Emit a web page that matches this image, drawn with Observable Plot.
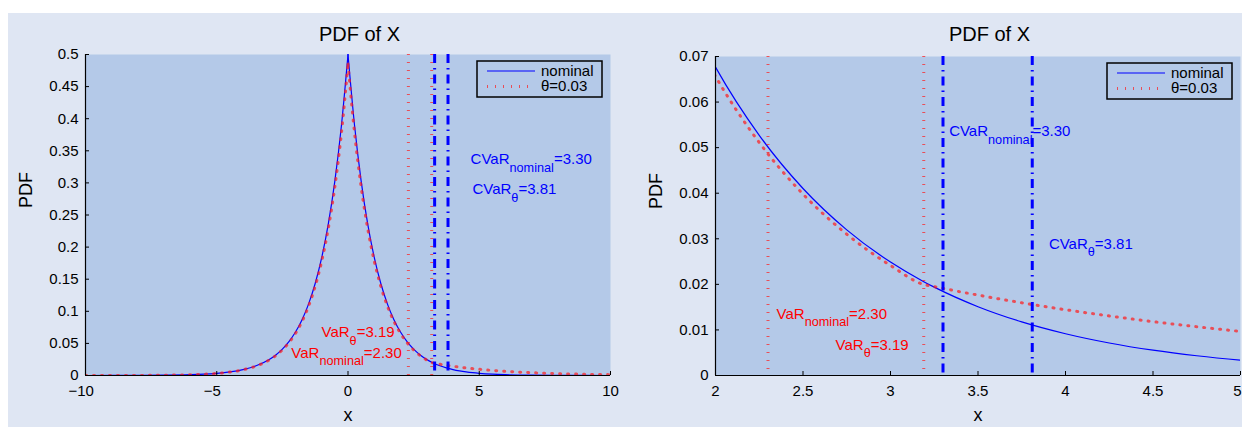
<!DOCTYPE html>
<html><head><meta charset="utf-8">
<script src="https://cdn.jsdelivr.net/npm/d3@7"></script>
<script src="https://cdn.jsdelivr.net/npm/@observablehq/plot@0.6"></script>
<style>
html,body{margin:0;padding:0;background:#fff;width:1242px;height:427px;overflow:hidden;}
#fig{position:absolute;left:8px;top:13px;width:1234px;height:414px;background:#dfe6f3;}
.panel{position:absolute;top:0;height:427px;}
</style></head><body>
<div id="fig"></div>
<div id="left" class="panel" style="left:0;width:620px"></div>
<div id="right" class="panel" style="left:620px;width:622px"></div>
<script>
// ---- data ----
const xs = [-10, -9, -8, -7, -6, -5.5, -5, -4.5, -4, -3.5, -3, -2.75, -2.5, -2.25, -2, -1.75, -1.5, -1.25, -1, -0.75, -0.5, -0.25,
  0,
  0.25, 0.5, 0.75, 1, 1.25, 1.5, 1.75, 2, 2.25, 2.5, 2.75, 3, 3.19, 3.25, 3.5, 3.75, 4, 4.25, 4.5, 4.75, 5, 5.5, 6, 7, 8, 9, 10];
const nominalPdf = [0.00002, 0.00006, 0.00017, 0.00046, 0.00124, 0.00204, 0.00337, 0.00555, 0.00916, 0.01510, 0.02489, 0.03196, 0.04104, 0.05270, 0.06767, 0.08689, 0.11157, 0.14325, 0.18394, 0.23618, 0.30327, 0.38940,
  0.5,
  0.38940, 0.30327, 0.23618, 0.18394, 0.14325, 0.11157, 0.08689, 0.06767, 0.05270, 0.04104, 0.03196, 0.02489, 0.02059, 0.01939, 0.01510, 0.01176, 0.00916, 0.00713, 0.00555, 0.00433, 0.00337, 0.00204, 0.00124, 0.00046, 0.00017, 0.00006, 0.00002];
const thetaPdf = [0.00002, 0.00006, 0.00016, 0.00044, 0.00120, 0.00198, 0.00327, 0.00539, 0.00888, 0.01465, 0.02414, 0.03100, 0.03981, 0.05112, 0.06564, 0.08428, 0.10822, 0.13895, 0.17842, 0.22909, 0.29417, 0.37772,
  0.485,
  0.37772, 0.29417, 0.22909, 0.17842, 0.13895, 0.10822, 0.08428, 0.06564, 0.05112, 0.03981, 0.03100, 0.02414, 0.01997, 0.01950, 0.01764, 0.01596, 0.01444, 0.01307, 0.01182, 0.01070, 0.00968, 0.00793, 0.00649, 0.00435, 0.00292, 0.00195, 0.00131];
const seriesNames = ["nominal", "θ=0.03"];
const varLines = [2.30, 3.19];    // VaR nominal, VaR theta
const cvarLines = [3.30, 3.81];   // CVaR nominal, CVaR theta
const title = "PDF of X";
const xLabel = "x";
const yLabel = "PDF";
const leftXTicks = [-10, -5, 0, 5, 10];
const leftXTickLabels = ["−10", "−5", "0", "5", "10"];
const leftYTicks = [0, 0.05, 0.1, 0.15, 0.2, 0.25, 0.3, 0.35, 0.4, 0.45, 0.5];
const leftYTickLabels = ["0", "0.05", "0.1", "0.15", "0.2", "0.25", "0.3", "0.35", "0.4", "0.45", "0.5"];
const rightXTicks = [2, 2.5, 3, 3.5, 4, 4.5, 5];
const rightXTickLabels = ["2", "2.5", "3", "3.5", "4", "4.5", "5"];
const rightYTicks = [0, 0.01, 0.02, 0.03, 0.04, 0.05, 0.06, 0.07];
const rightYTickLabels = ["0", "0.01", "0.02", "0.03", "0.04", "0.05", "0.06", "0.07"];
const annotationTexts = ["CVaR_{nominal}=3.30", "CVaR_{θ}=3.81", "VaR_{θ}=3.19", "VaR_{nominal}=2.30"];
const annotationColors = ["blue", "blue", "red", "red"];
const leftAnnotX = [4.67, 4.74, -1.01, -2.16];
const leftAnnotY = [0.329, 0.282, 0.0597, 0.0276];
const rightAnnotX = [3.335, 3.905, 2.686, 2.349];
const rightAnnotY = [0.0525, 0.0278, 0.0057, 0.0124];

// ---- styling ----
const FONT = "'Liberation Sans', Arial, Helvetica, sans-serif";
const PLOT_BG = "#b4c9e8";
const RED = "#ff1a1a";
const DOT = "1,7";
const DASHDOT = "9,5,1.5,5";

function rowsFor(vals) {
  const rows = [];
  xs.forEach((x, i) => {
    if (x <= 0) rows.push({x, y: vals[i], seg: "L"});
    if (x >= 0) rows.push({x, y: vals[i], seg: "R"});
  });
  return rows;
}
const nominalRows = rowsFor(nominalPdf);
const thetaRows = rowsFor(thetaPdf);

function panel(o) {
  const xMap = new Map(o.xTicks.map((d, i) => [d, o.xTickLabels[i]]));
  const yMap = new Map(o.yTicks.map((d, i) => [d, o.yTickLabels[i]]));
  const annots = annotationTexts.map((t, i) => ({text: t, color: annotationColors[i], x: o.annX[i], y: o.annY[i]}));
  const svg = Plot.plot({
    width: o.width, height: 427,
    marginLeft: o.marginLeft, marginRight: o.marginRight, marginTop: o.marginTop, marginBottom: 52,
    style: {background: "transparent", fontFamily: FONT, fontSize: "15px", color: "black", overflow: "visible"},
    x: {domain: o.xDomain},
    y: {domain: o.yDomain},
    marks: [
      Plot.frame({fill: PLOT_BG, stroke: "none"}),
      Plot.line(nominalRows, {x: "x", y: "y", z: "seg", stroke: "blue", strokeWidth: 1.2, curve: "monotone-x", clip: true}),
      Plot.line(thetaRows, {x: "x", y: "y", z: "seg", stroke: RED, strokeOpacity: 0.7, strokeWidth: 3, strokeDasharray: DOT, curve: "monotone-x", clip: true}),
      Plot.ruleX(varLines, {stroke: RED, strokeOpacity: 0.7, strokeWidth: 3, strokeDasharray: DOT}),
      Plot.ruleX(cvarLines, {stroke: "blue", strokeWidth: 3, strokeDasharray: DASHDOT}),
      Plot.ruleY([o.yDomain[0]], {stroke: "black", strokeWidth: 1.2}),
      Plot.ruleX([o.xDomain[0]], {stroke: "black", strokeWidth: 1.2}),
      Plot.axisX(o.xTicks, {tickSize: -4, tickPadding: 14, tickFormat: d => xMap.get(d), label: null, fontSize: 15}),
      Plot.axisY(o.yTicks, {tickSize: -4, tickPadding: 11, tickFormat: d => yMap.get(d), label: null, fontSize: 15}),
      Plot.text(annots, {x: "x", y: "y", text: "text", fill: "color", textAnchor: "start", lineAnchor: "bottom", fontSize: 15}),
      Plot.text([title], {text: d => d, frameAnchor: "top", dy: -(o.marginTop - 40), dx: 11.5, lineAnchor: "bottom", fontSize: 20}),
      Plot.text([yLabel], {text: d => d, frameAnchor: "left", dx: -59, dy: -7, rotate: -90, lineAnchor: "middle", fontSize: 18}),
      Plot.text([xLabel], {text: d => d, frameAnchor: "bottom", dy: 45, lineAnchor: "bottom", fontSize: 18})
    ]
  });
  const s = d3.select(svg);
  // subscripts and tick-label nudges
  s.selectAll("text").each(function() {
    const t = this.textContent;
    const m = t.match(/^(.*)_\{(.*)\}(.*)$/);
    if (m) {
      const sel = d3.select(this);
      sel.text(null);
      sel.append("tspan").text(m[1]);
      sel.append("tspan").attr("dy", 7.5).attr("font-size", 12.7).text(m[2]);
      sel.append("tspan").attr("dy", -7.5).text(m[3]);
    } else if (t.startsWith("−")) {
      d3.select(this).attr("dx", -4.4);
    } else if (o.lastXLabel && t === o.lastXLabel) {
      d3.select(this).attr("dx", -3);
    }
  });
  // legend
  const W = 125, H = 36;
  const L = o.width - o.marginRight - 8 - W, T = o.marginTop + 7;
  const g = s.append("g").attr("font-family", FONT).attr("font-size", 15).attr("text-anchor", "start");
  g.append("rect").attr("x", L).attr("y", T).attr("width", W).attr("height", H)
    .attr("fill", "none").attr("stroke", "black").attr("stroke-width", 1.5);
  g.append("line").attr("x1", L + 10).attr("x2", L + 58).attr("y1", T + 10).attr("y2", T + 10)
    .attr("stroke", "blue").attr("stroke-width", 1.2);
  g.append("text").attr("x", L + 64).attr("y", T + 15).attr("fill", "black").text(seriesNames[0]);
  g.append("line").attr("x1", L + 10).attr("x2", L + 58).attr("y1", T + 25.5).attr("y2", T + 25.5)
    .attr("stroke", RED).attr("stroke-opacity", 0.7).attr("stroke-width", 3).attr("stroke-dasharray", DOT);
  g.append("text").attr("x", L + 64).attr("y", T + 30).attr("fill", "black").text(seriesNames[1]);
  return svg;
}

document.getElementById("left").append(panel({
  width: 620, marginLeft: 85, marginRight: 10, marginTop: 54,
  xDomain: [-10, 10], yDomain: [0, 0.5],
  xTicks: leftXTicks, xTickLabels: leftXTickLabels, yTicks: leftYTicks, yTickLabels: leftYTickLabels,
  annX: leftAnnotX, annY: leftAnnotY
}));
document.getElementById("right").append(panel({
  width: 622, marginLeft: 95, marginRight: 2, marginTop: 56,
  xDomain: [2, 5], yDomain: [0, 0.07],
  xTicks: rightXTicks, xTickLabels: rightXTickLabels, yTicks: rightYTicks, yTickLabels: rightYTickLabels,
  annX: rightAnnotX, annY: rightAnnotY, lastXLabel: "5"
}));
</script>
</body></html>
